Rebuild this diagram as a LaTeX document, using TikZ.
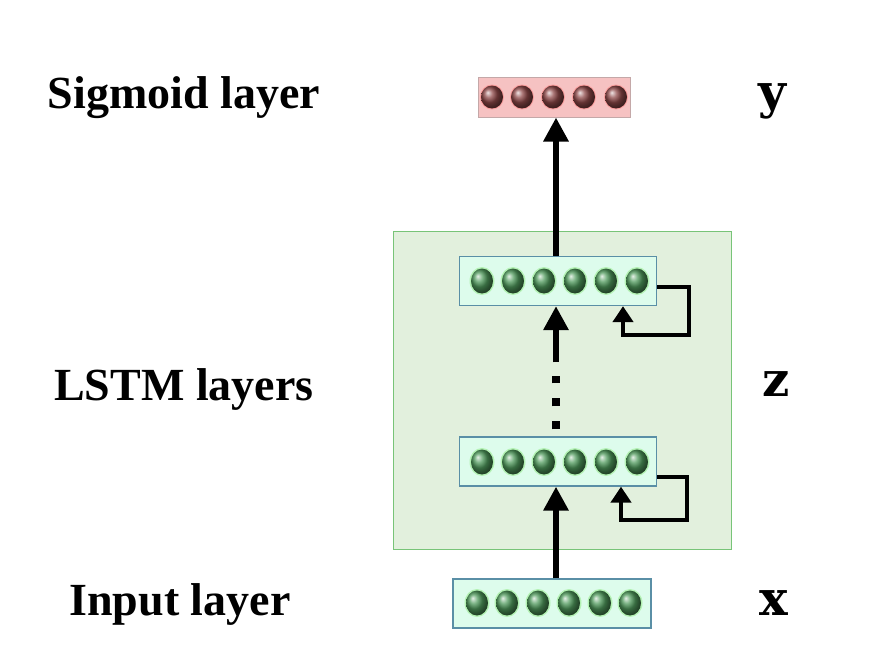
\documentclass[tikz,border=0pt]{standalone}
\usepackage{fontspec}
\setmainfont{Liberation Serif}
\newfontfamily\varfont{DejaVu Serif}
\usetikzlibrary{arrows.meta,calc}
\definecolor{bigfill}{HTML}{E2F0DD}
\definecolor{bigdraw}{HTML}{78C478}
\definecolor{layfill}{HTML}{DDFCEC}
\definecolor{laydraw}{HTML}{5A8FA6}
\definecolor{sigfill}{HTML}{F6C2C2}
\definecolor{sigdraw}{HTML}{C4A8A8}
\definecolor{halo}{HTML}{B4F2B4}
\definecolor{gballc}{HTML}{4F9A5C}
\definecolor{rballc}{HTML}{8E4848}
\tikzset{
  bigbox/.style={draw=bigdraw, fill=bigfill, line width=1pt, minimum width=338pt, minimum height=318pt, inner sep=0pt},
  laybox/.style={draw=laydraw, fill=layfill, line width=1.2pt, minimum width=197pt, minimum height=49pt, inner sep=0pt},
  sigbox/.style={draw=sigdraw, fill=sigfill, line width=1pt, minimum width=152pt, minimum height=40pt, inner sep=0pt},
  label/.style={font=\fontsize{46}{50}\selectfont\bfseries, anchor=base},
  varlabel/.style={font=\varfont\fontsize{48}{50}\selectfont\bfseries, anchor=base},
  mainarrow/.style={line width=6pt, -{Triangle[width=24pt,length=24pt]}},
  looparrow/.style={line width=4pt, -{Triangle[width=20pt,length=16pt]}},
  dotline/.style={line width=8pt, dash pattern=on 8pt off 15pt}
}
\newcommand{\gball}[2]{%
  \fill[halo] (#1,#2) ellipse (12.5pt and 14pt);
  \shade[ball color=gballc] (#1,#2) ellipse (11pt and 12.5pt);}
\newcommand{\rball}[2]{%
  \fill[sigfill!60!red!70!white] (#1,#2) ellipse (12pt and 12.5pt);
  \shade[ball color=rballc] (#1,#2) ellipse (11pt and 11.5pt);}
\begin{document}
\begin{tikzpicture}[x=1pt,y=-1pt]
\useasboundingbox[fill=white] (0,0) rectangle (875,654);
% boxes
\node[bigbox] (big) at (562,390) {};
\node[sigbox] (sig) at (554,97) {};
\node[laybox] (l2) at (558,281) {};
\node[laybox] (l1) at (558,461.5) {};
\node[laybox, minimum width=198pt] (inp) at (552,603.5) {};
\coordinate (ax) at (556,0);
% balls
\foreach \x in {492,522,553,584,616} {\rball{\x}{97}}
\foreach \x in {482,513,544,575,606,637} {\gball{\x}{281}}
\foreach \x in {482,513,544,575,606,637} {\gball{\x}{462}}
\foreach \x in {477,507,538,569,600,630} {\gball{\x}{603}}
% connectors
\draw[mainarrow] (l2.north -| ax) -- (sig.south -| ax);
\draw[mainarrow] (inp.north -| ax) -- (l1.south -| ax);
\draw[mainarrow, shorten <=74pt] (l1.north -| ax) -- (l2.south -| ax);
\draw[dotline, shorten <=7pt, shorten >=70pt] (l1.north -| ax) -- (l2.south -| ax);
\draw[looparrow] ([yshift=-6pt]l2.east) -| (689,335) -| ([xshift=65pt]l2.south);
\draw[looparrow] ([yshift=-15.5pt]l1.east) -| (687,520) -| ([xshift=63pt]l1.south);
% labels
\node[label] (tsig) at (184,108) {Sigmoid layer};
\node[label] (tlstm) at (184,400) {LSTM layers};
\node[label] (tinp) at (180,615) {Input layer};
\node[varlabel] (ty) at (772,108) {y};
\node[varlabel] (tz) at (776,396) {z};
\node[varlabel] (tx) at (774,615) {x};
\end{tikzpicture}
\end{document}
